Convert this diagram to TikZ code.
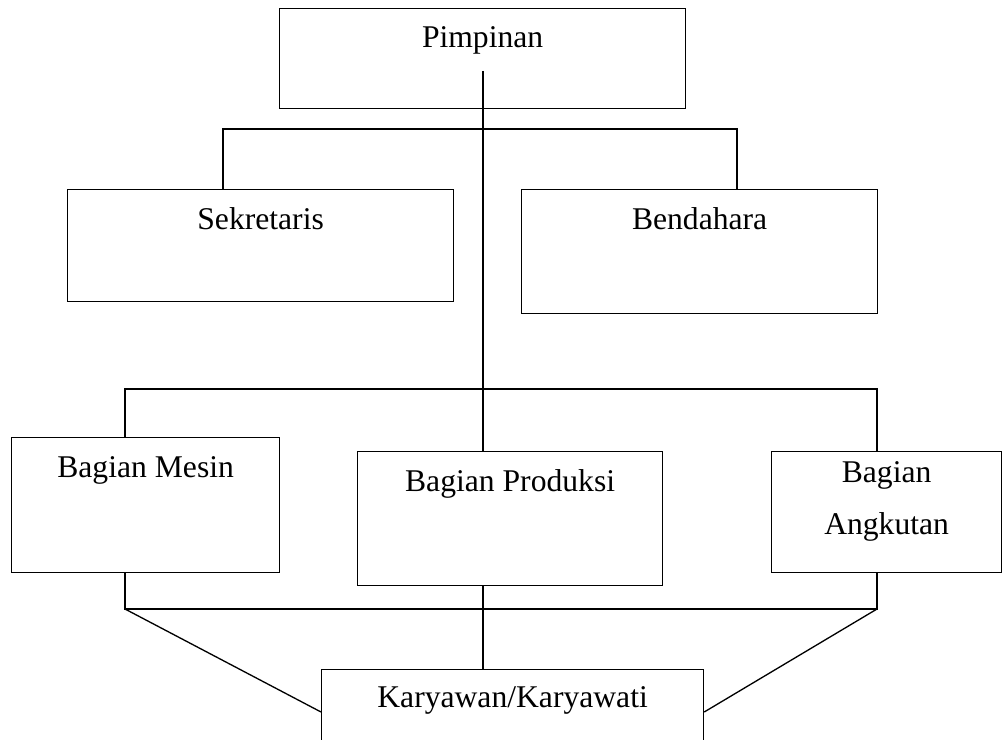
\documentclass[tikz,border=0pt]{standalone}
\usepackage{fontspec}
\setmainfont{Liberation Serif}
\usetikzlibrary{positioning,calc}

\begin{document}
\begin{tikzpicture}[
    x=0.02cm, y=-0.02cm, line width=0.75pt,
    unit/.style={rectangle, draw=black, anchor=north west, inner sep=0pt},
    txt/.style={anchor=base, inner sep=0pt, align=center,
                font=\fontsize{18}{30}\selectfont}
]
    \useasboundingbox (0,0) rectangle (1002,740);

    \node[unit, minimum width=8.12cm, minimum height=2.00cm,
          label={[txt, yshift=-0.80cm]north:Pimpinan}] (pim) at (279,8) {};
    \node[unit, minimum width=7.72cm, minimum height=2.24cm,
          label={[txt, yshift=-0.82cm]north:Sekretaris}] (sek) at (67,189) {};
    \node[unit, minimum width=7.12cm, minimum height=2.48cm,
          label={[txt, yshift=-0.82cm]north:Bendahara}] (ben) at (521,189) {};
    \node[unit, minimum width=5.36cm, minimum height=2.70cm,
          label={[txt, yshift=-0.82cm]north:Bagian Mesin}] (mes) at (11,437) {};
    \node[unit, minimum width=6.10cm, minimum height=2.68cm,
          label={[txt, yshift=-0.82cm]north:Bagian Produksi}] (pro) at (357,451) {};
    \node[unit, minimum width=4.60cm, minimum height=2.42cm,
          label={[txt, yshift=-1.68cm]north:Bagian\\Angkutan}] (ang) at (771,451) {};
    \node[unit, minimum width=7.64cm, minimum height=2.20cm,
          label={[txt, yshift=-0.78cm]north:Karyawan/Karyawati}] (kar) at (321,669) {};

    \coordinate (pim-in) at (483,71);
    \coordinate (top-l) at (223,129);
    \coordinate (top-r) at (737,129);
    \coordinate (mid-l) at (125,389);
    \coordinate (mid-r) at (877,389);
    \coordinate (bot-l) at (125,609);
    \coordinate (bot-r) at (877,609);

    \draw (pim-in) -- (pim-in |- pro.north);
    \draw (sek.north -| top-l) -- (top-l) -- (top-r) -- (top-r |- ben.north);
    \draw (mes.north -| mid-l) -- (mid-l) -- (mid-r) -- (mid-r |- ang.north);
    \draw (mes.south -| bot-l) -- (bot-l) -- (bot-r) -- (bot-r |- ang.south);
    \draw (pim-in |- pro.south) -- (pim-in |- kar.north);
    \draw (bot-l) -- ($(kar.north west)+(0,43)$);
    \draw (bot-r) -- ($(kar.north east)+(0,43)$);
\end{tikzpicture}
\end{document}
